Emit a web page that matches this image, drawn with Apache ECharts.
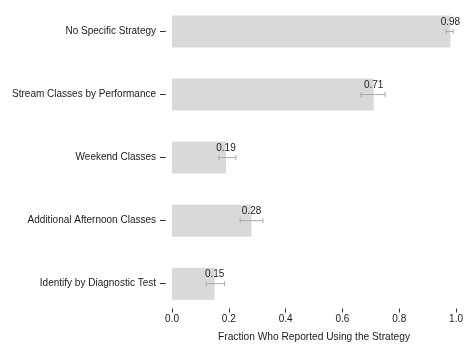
<!DOCTYPE html>
<html>
<head>
<meta charset="utf-8">
<script src="https://cdn.jsdelivr.net/npm/echarts@6/dist/echarts.min.js"></script>
<style>
  html, body { margin: 0; padding: 0; background: #fff; }
  #chart { width: 466px; height: 347px; }
</style>
</head>
<body>
<div id="chart"></div>
<script>
// Strategies, top to bottom
const categories = [
  'No Specific Strategy',
  'Stream Classes by Performance',
  'Weekend Classes',
  'Additional Afternoon Classes',
  'Identify by Diagnostic Test'
];
// Fraction of respondents using each strategy
const fractions = [0.98, 0.71, 0.19, 0.28, 0.15];
// Lower / upper ends of the error bars
const lowerBounds = [0.965, 0.665, 0.165, 0.24, 0.12];
const upperBounds = [0.99, 0.75, 0.225, 0.32, 0.185];
// Tick values on the fraction axis
const xTicks = [0.0, 0.2, 0.4, 0.6, 0.8, 1.0];

const FONT = 'Liberation Sans, Arial, Helvetica, sans-serif';

const errorData = categories.map((c, i) => [i, lowerBounds[i], upperBounds[i], fractions[i]]);

const chart = echarts.init(document.getElementById('chart'));
chart.setOption({
  animation: false,
  grid: { left: 172, right: 6, top: -2.3, bottom: 31.3, containLabel: false },
  xAxis: {
    type: 'value',
    min: xTicks[0],
    max: xTicks[xTicks.length - 1],
    interval: 0.2,
    offset: -6.7,
    axisLine: { show: false, onZero: false },
    axisTick: { show: true, length: 4, lineStyle: { color: '#333', width: 1 } },
    splitLine: { show: false },
    axisLabel: {
      margin: 6,
      fontSize: 10,
      fontFamily: FONT,
      color: '#1a1a1a',
      formatter: v => v.toFixed(1)
    },
    name: 'Fraction Who Reported Using the Strategy',
    nameLocation: 'middle',
    nameGap: 23.5,
    nameTextStyle: { fontSize: 10.2, fontFamily: FONT, color: '#1a1a1a' }
  },
  yAxis: {
    type: 'category',
    data: categories,
    inverse: true,
    offset: 6.3,
    axisLine: { show: false, onZero: false },
    axisTick: { show: true, length: 5.7, alignWithLabel: true, lineStyle: { color: '#333', width: 1 } },
    axisLabel: { margin: 9.7, fontSize: 10, fontFamily: FONT, color: '#1a1a1a' }
  },
  series: [
    {
      type: 'bar',
      data: fractions,
      barWidth: 32,
      itemStyle: { color: '#d9d9d9' },
      silent: true
    },
    {
      type: 'custom',
      data: errorData,
      encode: { y: 0, x: [1, 2, 3] },
      z: 5,
      renderItem: function (params, api) {
        const cat = api.value(0);
        const lo = api.coord([api.value(1), cat]);
        const hi = api.coord([api.value(2), cat]);
        const mid = api.coord([api.value(3), cat]);
        const cap = 2.5;
        const stroke = { stroke: '#aaaaaa', lineWidth: 1 };
        return {
          type: 'group',
          children: [
            { type: 'line', shape: { x1: lo[0], y1: lo[1], x2: hi[0], y2: hi[1] }, style: stroke },
            { type: 'line', shape: { x1: lo[0], y1: lo[1] - cap, x2: lo[0], y2: lo[1] + cap }, style: stroke },
            { type: 'line', shape: { x1: hi[0], y1: hi[1] - cap, x2: hi[0], y2: hi[1] + cap }, style: stroke },
            {
              type: 'text',
              style: {
                text: api.value(3).toFixed(2),
                x: mid[0],
                y: mid[1] - 4,
                align: 'center',
                verticalAlign: 'bottom',
                font: '10px ' + FONT,
                fill: '#1a1a1a'
              }
            }
          ]
        };
      }
    }
  ]
});
</script>
</body>
</html>
